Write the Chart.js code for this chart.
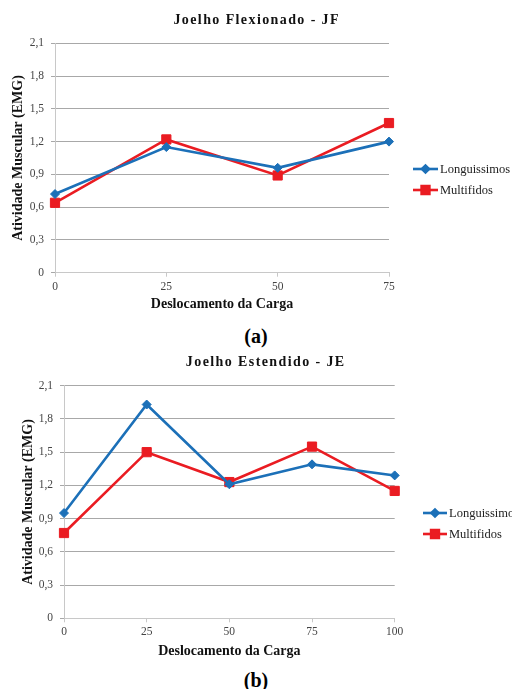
<!DOCTYPE html>
<html>
<head>
<meta charset="utf-8">
<script src="https://cdn.jsdelivr.net/npm/chart.js@4.4.1/dist/chart.umd.min.js"></script>
<style>
  html, body { margin: 0; padding: 0; background: #fff; }
  body { width: 512px; height: 689px; position: relative; overflow: hidden; }
  .cv { position: absolute; left: 0; }
  .lbl { position: absolute; left: 0; width: 512px; text-align: center;
         font-family: "Liberation Serif", "DejaVu Serif", serif; font-weight: bold;
         font-size: 20px; color: #000; line-height: 20px; }
</style>
</head>
<body>
<div class="cv" style="top:0px;width:512px;height:320px;"><canvas id="c1"></canvas></div>
<div class="lbl" style="top:326px;">(a)</div>
<div class="cv" style="top:340px;width:512px;height:325px;"><canvas id="c2"></canvas></div>
<div class="lbl" style="top:670px;">(b)</div>
<script>
// ---- Data ----
const seriesNames = ["Longuissimos", "Multifidos"];

const jfTitle = "Joelho Flexionado - JF";
const jfCategories = ["0", "25", "50", "75"];
const jfLonguissimos = [0.72, 1.15, 0.96, 1.20];
const jfMultifidos = [0.64, 1.22, 0.89, 1.37];

const jeTitle = "Joelho Estendido - JE";
const jeCategories = ["0", "25", "50", "75", "100"];
const jeLonguissimos = [0.95, 1.93, 1.21, 1.39, 1.29];
const jeMultifidos = [0.77, 1.50, 1.23, 1.55, 1.15];

const yTicks = [0, 0.3, 0.6, 0.9, 1.2, 1.5, 1.8, 2.1];
const xAxisTitle = "Deslocamento da Carga";
const yAxisTitle = "Atividade Muscular (EMG)";

// ---- Styles ----
const SERIF = '"Liberation Serif", "Times New Roman", serif';
const BLUE = "#1c70b8";
const RED = "#ea1c22";

const overlayPlugin = {
  id: "overlay",
  afterDraw(chart) {
    const o = chart.options.plugins.overlay;
    const ctx = chart.ctx;
    ctx.save();
    // title
    ctx.fillStyle = "#111";
    ctx.font = "bold 14px " + SERIF;
    if ("letterSpacing" in ctx) ctx.letterSpacing = "1.4px";
    ctx.textAlign = "center";
    ctx.textBaseline = "middle";
    ctx.fillText(o.title, o.titleX + 0.7, o.titleY);
    if ("letterSpacing" in ctx) ctx.letterSpacing = "0px";
    // legend
    ctx.font = "12.5px " + SERIF;
    ctx.textAlign = "left";
    chart.data.datasets.forEach((ds, i) => {
      const y = o.legendY + i * o.legendGap;
      ctx.strokeStyle = ds.borderColor;
      ctx.lineWidth = ds.borderWidth;
      ctx.beginPath();
      ctx.moveTo(o.legendX, y);
      ctx.lineTo(o.legendX + o.legendLine, y);
      ctx.stroke();
      ctx.fillStyle = ds.pointBackgroundColor;
      Chart.helpers.drawPoint(ctx, {
        pointStyle: ds.pointStyle,
        radius: ds.legendRadius,
        borderWidth: 1
      }, o.legendX + o.legendLine / 2, y);
      ctx.fill();
      ctx.fillStyle = "#222";
      ctx.fillText(ds.label, o.legendX + o.legendLine + 2, y + 1);
    });
    ctx.restore();
  }
};

function makeChart(id, cats, s1, s2, lay) {
  return new Chart(document.getElementById(id), {
    type: "line",
    data: {
      labels: cats,
      datasets: [
        { label: seriesNames[0], data: s1, borderColor: BLUE, backgroundColor: BLUE,
          pointBackgroundColor: BLUE, pointBorderColor: BLUE, borderWidth: 2.6,
          pointStyle: "rectRot", pointRadius: 4.5, pointBorderWidth: 1, legendRadius: 3.5,
          tension: 0, fill: false },
        { label: seriesNames[1], data: s2, borderColor: RED, backgroundColor: RED,
          pointBackgroundColor: RED, pointBorderColor: RED, borderWidth: 2.6,
          pointStyle: "rect", pointRadius: 6.5, pointBorderWidth: 1, legendRadius: 5.5,
          tension: 0, fill: false }
      ]
    },
    options: {
      responsive: true,
      maintainAspectRatio: false,
      animation: false,
      devicePixelRatio: 1,
      layout: { padding: { top: lay.top, left: lay.left, right: lay.right, bottom: lay.bottom } },
      plugins: {
        legend: { display: false },
        tooltip: { enabled: false },
        overlay: lay.overlay
      },
      scales: {
        x: {
          type: "category",
          offset: false,
          afterFit(s) { s.height = lay.xHeight; },
          grid: { drawOnChartArea: false, drawTicks: true, tickLength: 4, color: "#c8c8c8" },
          border: { color: "#c8c8c8", width: 1 },
          ticks: { color: "#444", padding: 3, font: { family: SERIF, size: 11.5 }, maxRotation: 0 },
          title: { display: true, text: xAxisTitle, color: "#111",
                   font: { family: SERIF, size: 14, weight: "bold" },
                   padding: { top: 0, bottom: 4 } }
        },
        y: {
          min: 0, max: 2.1,
          afterFit(s) { s.width = lay.yWidth; },
          afterBuildTicks(s) { s.ticks = yTicks.map(v => ({ value: v })); },
          grid: { color: "#a8a8a8", lineWidth: 1, drawTicks: true, tickLength: 4 },
          border: { color: "#c8c8c8", width: 1 },
          ticks: { color: "#444", padding: 7, font: { family: SERIF, size: 11.5 },
                   callback: v => (v === 0 ? "0" : v.toFixed(1).replace(".", ",")) },
          title: { display: true, text: yAxisTitle, color: "#111",
                   font: { family: SERIF, size: 14, weight: "bold" },
                   padding: { top: 4, bottom: 0 } }
        }
      }
    },
    plugins: [overlayPlugin]
  });
}

makeChart("c1", jfCategories, jfLonguissimos, jfMultifidos, {
  top: 43.3, left: 6, right: 123, bottom: 3, xHeight: 44.3, yWidth: 49,
  overlay: { title: jfTitle, titleX: 256, titleY: 20,
             legendX: 413, legendY: 169, legendGap: 21, legendLine: 25 }
});

makeChart("c2", jeCategories, jeLonguissimos, jeMultifidos, {
  top: 45.7, left: 15.7, right: 117.3, bottom: 1.2, xHeight: 45.5, yWidth: 48.3,
  overlay: { title: jeTitle, titleX: 265, titleY: 22,
             legendX: 423, legendY: 173, legendGap: 21, legendLine: 24 }
});
</script>
</body>
</html>
